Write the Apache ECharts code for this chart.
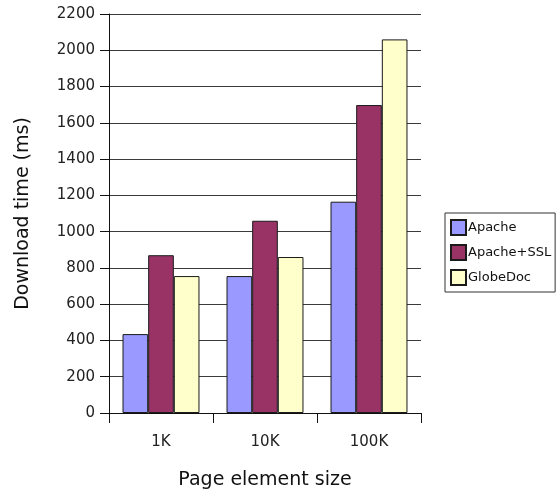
<!DOCTYPE html>
<html>
<head>
<meta charset="utf-8">
<title>Download time by page element size</title>
<script src="https://cdn.jsdelivr.net/npm/echarts@6/dist/echarts.min.js"></script>
<style>
  html, body { margin: 0; padding: 0; background: #ffffff; }
  #chart { width: 560px; height: 500px; }
</style>
</head>
<body>
<div id="chart"></div>
<script>
// Page element sizes on the x axis
const categories = ['1K', '10K', '100K'];

// Download time in milliseconds for each server setup
const apache = [435, 755, 1165];
const apacheSSL = [870, 1060, 1698];
const globeDoc = [755, 860, 2060];

const seriesNames = ['Apache', 'Apache+SSL', 'GlobeDoc'];
const seriesColors = ['#9999ff', '#993366', '#ffffcc'];

const FONT = 'DejaVu Sans';

const chart = echarts.init(document.getElementById('chart'), null, { renderer: 'canvas' });

function barSeries(name, data, color) {
  return {
    name: name,
    type: 'bar',
    data: data,
    barGap: '0%',
    barCategoryGap: '26%',
    itemStyle: { color: color, borderColor: '#1a1a1a', borderWidth: 1 },
    emphasis: { disabled: true }
  };
}

chart.setOption({
  animation: false,
  backgroundColor: '#ffffff',
  textStyle: { fontFamily: FONT },
  grid: { left: 109, right: 139, top: 14, bottom: 87, containLabel: false },
  legend: {
    orient: 'vertical',
    left: 445,
    top: 213,
    itemWidth: 15,
    itemHeight: 15,
    itemGap: 8,
    padding: [6, 4, 6, 5],
    borderColor: '#333333',
    borderWidth: 1,
    icon: 'rect',
    textStyle: { fontFamily: FONT, fontSize: 13, color: '#111111', padding: [0, 0, 0, -3] },
    data: seriesNames
  },
  xAxis: {
    type: 'category',
    data: categories,
    name: 'Page element size',
    nameLocation: 'middle',
    nameGap: 58,
    nameTextStyle: { fontFamily: FONT, fontSize: 19, color: '#111111' },
    axisLine: { show: true, lineStyle: { color: '#111111', width: 1 } },
    axisTick: { show: true, alignWithLabel: false, length: 10, lineStyle: { color: '#111111' } },
    axisLabel: { fontFamily: FONT, fontSize: 15, color: '#222222', margin: 22 },
    splitLine: { show: false }
  },
  yAxis: {
    type: 'value',
    min: 0,
    max: 2200,
    interval: 200,
    name: 'Download time (ms)',
    nameLocation: 'middle',
    nameGap: 76,
    nameTextStyle: { fontFamily: FONT, fontSize: 19, color: '#111111' },
    axisLine: { show: true, lineStyle: { color: '#111111', width: 1 } },
    axisTick: { show: true, inside: false, length: 9, lineStyle: { color: '#111111' } },
    axisLabel: {
      fontFamily: FONT, fontSize: 15, color: '#222222', margin: 14,
      formatter: function (v) { return String(v); }
    },
    splitLine: { show: true, lineStyle: { color: '#3a3a3a', width: 1 } }
  },
  series: [
    barSeries(seriesNames[0], apache, seriesColors[0]),
    barSeries(seriesNames[1], apacheSSL, seriesColors[1]),
    barSeries(seriesNames[2], globeDoc, seriesColors[2])
  ]
});
</script>
</body>
</html>
